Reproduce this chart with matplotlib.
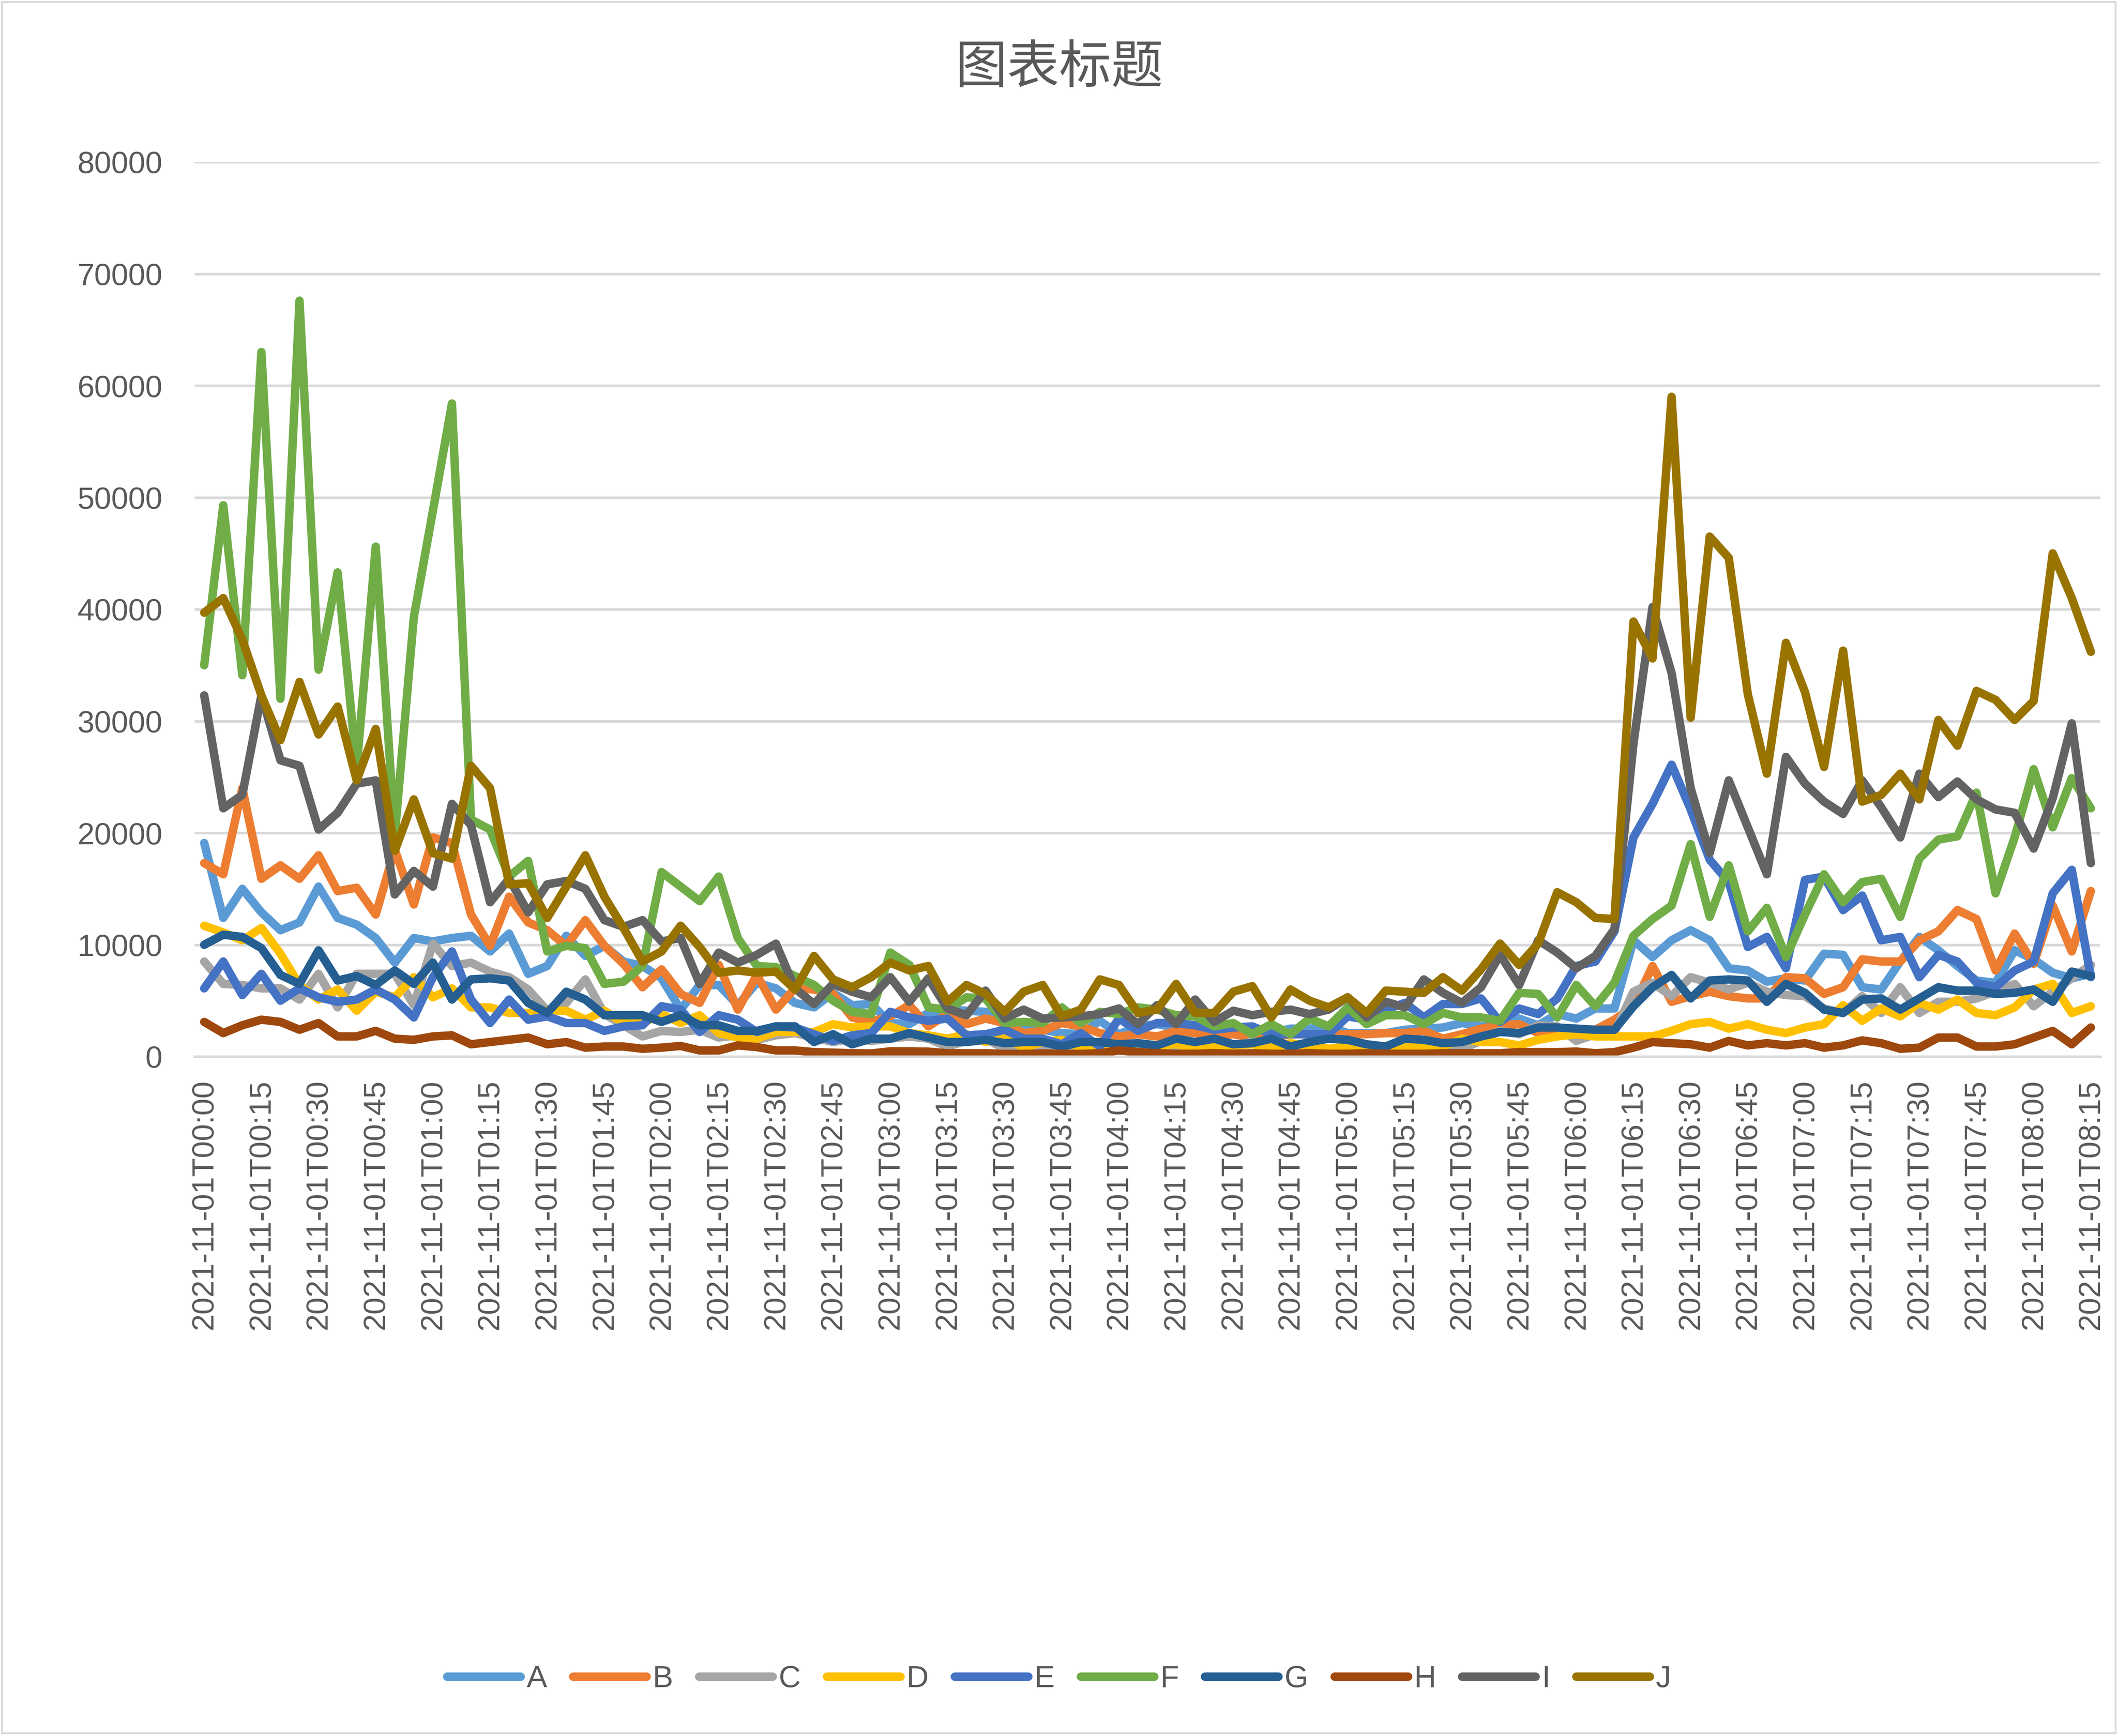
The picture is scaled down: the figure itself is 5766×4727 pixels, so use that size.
import numpy as np
import pandas as pd
import matplotlib
matplotlib.use("Agg")
import matplotlib.pyplot as plt
from matplotlib.patches import Rectangle

plt.rcParams['font.family'] = ['Liberation Sans', 'Noto Sans CJK SC', 'DejaVu Sans']

# ---------------- data ----------------
times = pd.date_range('2021-11-01 00:00', periods=100, freq='5min')
categories = [t.strftime('%Y-%m-%dT%H:%M') for t in times]

A = [19100,12400,15000,12900,11300,12000,15200,12400,11800,10600,8400,10600,10300,10600,10800,9400,11000,7400,8100,10800,9000,9900,8500,8100,7000,
     4200,6400,6400,4600,6600,6100,4800,4400,5700,4600,4700,3000,2900,3900,4200,4100,4000,2800,2600,2400,2100,2000,3200,2000,
     2700,2900,2600,2600,2400,2400,2500,2100,2500,2500,2700,2100,2100,2100,2400,2500,2600,3000,2700,2700,3400,2800,3800,3400,
     4300,4300,10400,8900,10400,11300,10400,7900,7700,6700,7000,6800,9200,9100,6200,6000,8500,10700,9500,8100,6800,6600,9500,8700,7500,7000,7400]
B = [17300,16300,24000,15900,17100,15900,18000,14800,15100,12700,18500,13600,19600,19100,12700,9900,14300,12000,11300,9900,12200,9900,8300,6200,7800,
     5600,4800,8200,4200,7300,4200,6100,6000,5600,3500,3100,3600,4600,2700,3800,2900,3400,3000,2100,2300,3000,2700,2100,1800,
     2000,1800,2300,2100,1900,2000,1700,1700,2000,2000,2000,2000,2000,2100,2100,2300,1600,2000,2500,2800,2900,2100,2200,2300,
     2400,3300,4500,8100,4900,5400,5800,5400,5200,5200,7100,7000,5600,6200,8700,8500,8500,10400,11200,13100,12300,7700,11000,8300,13500,9400,14800]
C = [8500,6500,6400,6100,6100,5100,7400,4400,7400,7400,7400,4600,10100,8100,8400,7600,7100,6000,4100,4800,6900,3800,2800,1800,2300,
     2200,2400,1700,1900,1500,1900,2100,1700,1300,1600,1400,1600,1800,1600,900,1400,1600,700,500,800,600,700,800,900,
     1000,800,900,700,1000,800,1400,1000,800,900,700,900,800,900,1000,800,900,700,1400,2300,2000,2800,2700,1400,
     2000,2200,5800,6600,5400,7100,6600,6000,6600,5800,5500,5400,4300,3900,5400,3900,6200,3900,4900,4900,5200,5800,6500,4500,5800,7000,8200]
D = [11700,11100,10400,11500,9200,6400,5100,6000,4100,5800,5300,7100,5300,6100,4400,4400,3900,3900,4100,4100,3300,4100,3000,3000,3800,
     3000,3700,2100,1700,1600,2200,2200,2200,2900,2600,2700,2700,2100,1900,1600,2000,1300,1700,800,1300,1500,800,900,1000,
     1200,1000,1100,800,900,1000,1100,800,1200,900,700,900,800,800,900,900,900,1600,1300,1300,1000,1500,1800,2000,
     1800,1800,1800,1800,2300,2900,3100,2500,2900,2400,2100,2600,2900,4600,3200,4300,3600,4800,4200,5100,3900,3700,4400,6000,6500,3900,4500]
E = [6100,8500,5500,7400,5000,6100,5300,4900,5100,6000,5100,3500,7100,9400,5100,3000,5100,3300,3600,3000,3000,2300,2700,2800,4500,
     4200,2200,3700,3300,2200,2700,2600,2000,1400,1900,2100,4000,3500,3200,3400,1900,2000,2400,1600,1600,1100,2100,900,3400,
     2300,3000,3000,2800,2400,2600,2700,2000,2000,2000,2000,3600,3300,4200,4800,3500,4700,4700,5200,3100,4300,3800,5200,8100,
     8500,11200,19600,22600,26100,22100,17600,15600,9800,10700,7900,15800,16100,13100,14400,10400,10700,7100,9100,8500,6600,6200,7700,8500,14600,16700,7100]
F = [35000,49300,34100,63000,32000,67600,34600,43300,25800,45600,19800,39300,48800,58400,21200,20300,16100,17500,9400,9900,9700,6500,6700,8100,16500,
     15200,13900,16100,10600,8100,8000,7200,6400,5000,4000,3800,9300,8200,4400,4200,5300,5200,3000,3100,3000,4400,3000,4000,3800,
     4400,4200,3700,3600,2700,3000,2000,2900,2000,3400,2700,4400,2900,3700,3700,2900,3900,3500,3500,3200,5700,5600,3500,6400,
     4500,6600,10800,12300,13500,19000,12500,17100,11200,13300,8900,12700,16300,13800,15600,15900,12500,17700,19400,19700,23600,14600,19600,25700,20500,24900,22200]
G = [10000,10900,10700,9700,7300,6500,9500,6800,7200,6400,7700,6500,8400,5100,6900,7000,6800,4800,3900,5800,5100,3700,3700,3700,3100,
     3700,2800,2800,2300,2300,2700,2700,1300,2000,1100,1600,1600,2100,1700,1300,1300,1500,1200,1300,1300,900,1300,1300,1100,
     1200,1000,1600,1300,1600,1100,1200,1600,900,1300,1600,1500,1100,900,1600,1500,1200,1300,1800,2200,2100,2600,2600,2500,
     2400,2400,4500,6200,7300,5200,6800,6900,6800,4900,6500,5700,4200,3900,5100,5200,4200,5200,6200,5900,5900,5600,5700,6000,4900,7600,7200]
H = [3100,2100,2800,3300,3100,2400,3000,1800,1800,2300,1600,1500,1800,1900,1100,1300,1500,1700,1100,1300,800,900,900,700,800,
     950,550,550,1000,850,550,550,400,350,300,280,470,470,440,300,300,300,240,240,280,240,240,300,550,
     400,300,250,250,300,250,300,250,250,300,250,250,300,250,250,250,300,300,300,300,400,400,400,450,
     300,400,800,1300,1200,1100,800,1400,1000,1200,1000,1200,800,1000,1450,1200,700,800,1700,1700,900,900,1100,1700,2300,1100,2600]
I = [32300,22200,23400,32300,26500,26000,20300,21800,24400,24700,14500,16600,15200,22600,20700,13800,15900,12900,15400,15700,15000,12200,11600,12200,10300,
     10600,6500,9300,8400,9100,10100,6100,4700,6500,5800,5300,7100,4900,7000,4300,3700,5900,3400,4200,3400,3500,3600,3800,4300,
     2900,4600,2900,5100,3100,4100,3700,4000,4200,3800,4200,5300,3500,4900,4400,6900,5700,4800,6200,9100,6400,10400,9300,7900,
     9000,11400,28000,40200,34300,24000,18200,24700,20500,16300,26800,24400,22800,21700,24700,22300,19600,25300,23200,24600,23000,22100,21800,18600,23100,29800,17300]
J = [39700,41000,37300,32300,28300,33500,28800,31300,24700,29300,18400,23000,18200,17700,26000,24000,15400,15500,12400,15200,18000,14300,11500,8500,9400,
     11700,9800,7500,7700,7500,7600,6000,9000,6900,6200,7100,8400,7700,8100,4900,6400,5600,4000,5800,6400,3600,4200,6900,6400,
     3900,4200,6500,3900,3900,5800,6300,3500,6000,5000,4400,5300,3900,5900,5800,5700,7100,5900,7800,10100,8200,10100,14700,13800,
     12400,12300,38900,35600,59000,30300,46500,44600,32400,25300,37000,32600,25900,36300,22800,23400,25300,23000,30100,27800,32700,31900,30100,31800,45000,41000,36200]

series_names = ['A', 'B', 'C', 'D', 'E', 'F', 'G', 'H', 'I', 'J']
series_values = [A, B, C, D, E, F, G, H, I, J]
series_colors = ['#5B9BD5', '#ED7D31', '#A5A5A5', '#FFC000', '#4472C4',
                 '#70AD47', '#255E91', '#9E480E', '#636363', '#997300']
y_ticks = list(range(0, 80001, 10000))
title = '图表标题'

# ---------------- figure ----------------
W, Hpx = 5766, 4727
DPI = 300
fig = plt.figure(figsize=(W / DPI, Hpx / DPI), dpi=DPI)
fig.patch.set_facecolor('white')

left, right, top, bottom = 530, 5718, 441, 2877
ax = fig.add_axes([left / W, 1 - bottom / Hpx, (right - left) / W, (bottom - top) / Hpx])

x = np.arange(len(categories))
for name, vals, col in zip(series_names, series_values, series_colors):
    assert len(vals) == len(categories), name
    ax.plot(x, vals, color=col, lw=5.5, solid_joinstyle='round',
            solid_capstyle='round', label=name)

ax.set_xlim(-0.5, len(categories) - 0.5)
ax.set_ylim(0, 80000)
ax.set_yticks(y_ticks)
ax.set_yticklabels([str(v) for v in y_ticks])
ax.yaxis.grid(True, color='#D9D9D9', lw=1.7)
ax.set_axisbelow(True)
for s in ['top', 'right', 'left']:
    ax.spines[s].set_visible(False)
ax.spines['bottom'].set_color('#D9D9D9')
ax.spines['bottom'].set_linewidth(1.7)

ax.set_xticks(x[::3])
ax.set_xticklabels(categories[::3], rotation=90)
ax.tick_params(axis='y', length=0, pad=21, labelsize=20, labelcolor='#595959')
ax.tick_params(axis='x', length=0, pad=15, labelsize=20, labelcolor='#595959')

fig.text(0.5, 1 - 185 / Hpx, title, ha='center', va='center', fontsize=34,
         color='#595959', family=['Noto Sans CJK SC', 'DejaVu Sans'])

leg = fig.legend(loc='center', bbox_to_anchor=(0.5, 1 - 4572 / Hpx), ncol=10,
                 frameon=False, fontsize=20, handlelength=2.4, handletextpad=0.2,
                 columnspacing=0.85)
for t in leg.get_texts():
    t.set_color('#595959')

fig.patches.append(Rectangle((5 / W, 1 - 4719 / Hpx), (5759 - 5) / W, (4719 - 5) / Hpx,
                             transform=fig.transFigure, fill=False,
                             edgecolor='#D9D9D9', lw=1.2))

fig.savefig('out.png', dpi=DPI)
